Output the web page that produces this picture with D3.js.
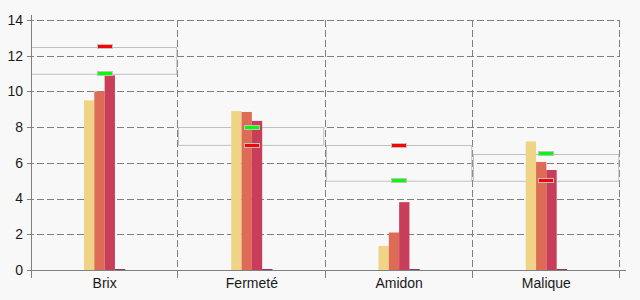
<!DOCTYPE html>
<html>
<head>
<meta charset="utf-8">
<script src="https://cdn.jsdelivr.net/npm/d3@7"></script>
<style>
  body { margin: 0; background: #f8f8f8; }
  svg { display: block; font-family: "Liberation Sans", Arial, sans-serif; }
</style>
</head>
<body>
<div id="chart"></div>
<script>
// categories and series values
var categories = ["Brix", "Fermeté", "Amidon", "Malique"];
var serie1 = [9.5, 8.9, 1.35, 7.2];
var serie2 = [10.0, 8.85, 2.1, 6.05];
var serie3 = [10.9, 8.35, 3.8, 5.6];
var serie4 = [0.05, 0.05, 0.05, 0.05];
var redMarks = [12.5, 7, 7, 5];
var greenMarks = [11, 8, 5, 6.5];
var yTicks = [0, 2, 4, 6, 8, 10, 12, 14];

var series = [serie1, serie2, serie3, serie4];
var seriesColors = ["#eed484", "#dd6b55", "#c83e5a", "#7d2846"];

var width = 640, height = 300;
var margin = {left: 31, right: 20, top: 20, bottom: 30};
var plotRight = width - margin.right;
var plotBottom = height - margin.bottom;

var svg = d3.select("#chart").append("svg")
    .attr("width", width)
    .attr("height", height);

svg.append("rect")
    .attr("width", width)
    .attr("height", height)
    .style("fill", "#f8f8f8");

var x = d3.scaleBand()
    .domain(categories)
    .range([margin.left, plotRight])
    .padding(0);

var y = d3.scaleLinear()
    .domain([0, 14])
    .range([plotBottom, margin.top]);

var groupWidth = x.bandwidth() * 0.28;
var xInner = d3.scaleBand()
    .domain(d3.range(series.length))
    .range([-groupWidth / 2, groupWidth / 2]);

// horizontal grid lines (dashed)
svg.append("g")
    .selectAll("line")
    .data(yTicks.filter(function(d) { return d > 0; }))
    .enter().append("line")
    .attr("x1", margin.left - 4)
    .attr("x2", plotRight)
    .attr("y1", function(d) { return Math.round(y(d)) + 0.5; })
    .attr("y2", function(d) { return Math.round(y(d)) + 0.5; })
    .style("stroke", "#808080")
    .style("stroke-dasharray", "7,3");

// vertical separators (dashed), with solid tick below axis
var seps = categories.map(function(c) { return x(c) + x.bandwidth(); });
svg.append("g")
    .selectAll("line")
    .data(seps)
    .enter().append("line")
    .attr("x1", function(d) { return Math.round(d) - 0.5; })
    .attr("x2", function(d) { return Math.round(d) - 0.5; })
    .attr("y1", margin.top)
    .attr("y2", plotBottom)
    .style("stroke", "#808080")
    .style("stroke-dasharray", "7,3");
svg.append("g")
    .selectAll("line")
    .data(seps)
    .enter().append("line")
    .attr("x1", function(d) { return Math.round(d) - 0.5; })
    .attr("x2", function(d) { return Math.round(d) - 0.5; })
    .attr("y1", plotBottom)
    .attr("y2", plotBottom + 8)
    .style("stroke", "#808080");

// range boxes
svg.append("g")
    .selectAll("rect")
    .data(categories)
    .enter().append("rect")
    .attr("x", function(d) { return Math.round(x(d)) + 0.5; })
    .attr("width", x.bandwidth() - 2)
    .attr("y", function(d, i) { return Math.round(y(Math.max(redMarks[i], greenMarks[i]))) + 0.5; })
    .attr("height", function(d, i) { return Math.abs(y(redMarks[i]) - y(greenMarks[i])); })
    .style("fill", "none")
    .style("stroke", "#c0c0c0");

// bars
series.forEach(function(vals, s) {
  svg.append("g")
      .selectAll("rect")
      .data(vals)
      .enter().append("rect")
      .attr("x", function(d, i) { return x(categories[i]) + x.bandwidth() / 2 + xInner(s); })
      .attr("width", xInner.bandwidth())
      .attr("y", function(d) { return y(d); })
      .attr("height", function(d) { return plotBottom - y(d); })
      .style("fill", seriesColors[s]);
});

// axes lines
svg.append("line")
    .attr("x1", margin.left + 0.5).attr("x2", margin.left + 0.5)
    .attr("y1", margin.top - 5).attr("y2", plotBottom + 8)
    .style("stroke", "#808080");
svg.append("line")
    .attr("x1", margin.left - 4).attr("x2", plotRight + 6)
    .attr("y1", plotBottom + 0.5).attr("y2", plotBottom + 0.5)
    .style("stroke", "#808080");

// markers
function drawMarks(vals, color) {
  svg.append("g")
      .selectAll("rect")
      .data(vals)
      .enter().append("rect")
      .attr("x", function(d, i) { return Math.round(x(categories[i]) + x.bandwidth() / 2 - 8) + 0.5; })
      .attr("width", 15)
      .attr("y", function(d) { return Math.round(y(d) - 2.5) + 0.5; })
      .attr("height", 4)
      .style("fill", color)
      .style("stroke", "#c0c0c0");
}
drawMarks(redMarks, "#ff0000");
drawMarks(greenMarks, "#00ff00");

// y tick labels
svg.append("g")
    .selectAll("text")
    .data(yTicks)
    .enter().append("text")
    .attr("x", 23)
    .attr("y", function(d) { return y(d); })
    .attr("dy", "0.35em")
    .attr("text-anchor", "end")
    .style("font-size", "14px")
    .style("fill", "#1a1a1a")
    .text(function(d) { return d; });

// category labels
svg.append("g")
    .selectAll("text")
    .data(categories)
    .enter().append("text")
    .attr("x", function(d) { return x(d) + x.bandwidth() / 2; })
    .attr("y", 288)
    .attr("text-anchor", "middle")
    .style("font-size", "14px")
    .style("fill", "#1a1a1a")
    .text(function(d) { return d; });
</script>
</body>
</html>
